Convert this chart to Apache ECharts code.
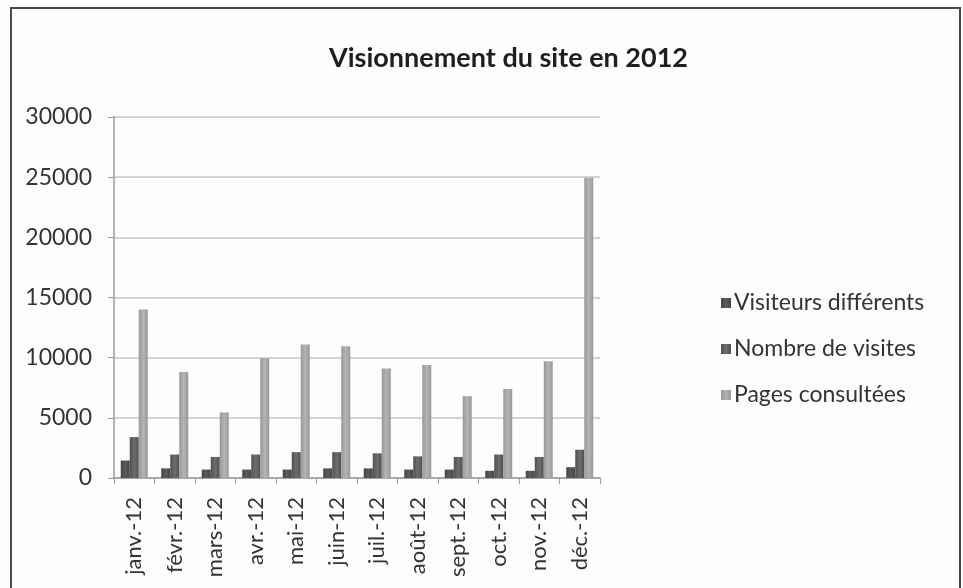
<!DOCTYPE html>
<html>
<head>
<meta charset="utf-8">
<script src="https://cdn.jsdelivr.net/npm/echarts@6/dist/echarts.min.js"></script>
<style>
  html, body { margin: 0; padding: 0; background: #fdfdfd; }
  #myChart { width: 963px; height: 588px; }
</style>
</head>
<body>
<div id="myChart"></div>
<script>
// categories (mois)
let months = ["janv.-12", "févr.-12", "mars-12", "avr.-12", "mai-12", "juin-12",
  "juil.-12", "août-12", "sept.-12", "oct.-12", "nov.-12", "déc.-12"];
// series values
let visiteurs = [1450, 800, 700, 700, 700, 800, 800, 700, 700, 600, 600, 900];
let visites = [3400, 1950, 1750, 1950, 2150, 2150, 2050, 1800, 1750, 1950, 1750, 2350];
let pages = [14000, 8800, 5450, 9950, 11100, 10950, 9100, 9400, 6800, 7400, 9700, 24950];
let seriesNames = ["Visiteurs différents", "Nombre de visites", "Pages consultées"];

let font = "Lato, 'Open Sans', sans-serif";

// dégradé horizontal pour l'effet Excel
function shade (c1, c2) {
  return new echarts.graphic.LinearGradient(0, 0, 1, 0, [
    { offset: 0, color: c1 },
    { offset: 0.5, color: c2 },
    { offset: 1, color: c1 }
  ]);
}

let myChart = echarts.init(document.getElementById("myChart"));
let option = {
  backgroundColor: "#fdfdfd",
  animation: false,
  title: {
    text: "Visionnement du site en 2012",
    left: 324,
    top: 40,
    textStyle: {
      fontFamily: font,
      fontSize: 27,
      fontWeight: "bold",
      color: "#1e1e1e"
    }
  },
  // cadre du graphique
  graphic: [{
    type: "rect",
    shape: { x: 11, y: 8, width: 949, height: 600 },
    style: { fill: "none", stroke: "#4a4a4a", lineWidth: 2 }
  }],
  legend: {
    orient: "vertical",
    left: 716,
    top: 286,
    itemWidth: 10,
    itemHeight: 10,
    itemGap: 22,
    icon: "rect",
    textStyle: {
      fontFamily: font,
      fontSize: 23,
      color: "#333333",
      lineHeight: 24,
      padding: [0, 0, 0, -2]
    },
    data: seriesNames
  },
  grid: {
    left: 114,
    right: 363,
    top: 117,
    bottom: 110
  },
  xAxis: {
    type: "category",
    data: months,
    axisLine: { lineStyle: { color: "#9a9a9a", width: 1.5 } },
    axisTick: { show: true, length: 6, lineStyle: { color: "#9a9a9a" } },
    axisLabel: {
      rotate: 90,
      margin: 19,
      fontFamily: font,
      fontSize: 22,
      color: "#333333"
    }
  },
  yAxis: {
    type: "value",
    min: 0,
    max: 30000,
    interval: 5000,
    axisLine: { show: true, lineStyle: { color: "#9a9a9a", width: 1.5 } },
    axisTick: { show: true, length: 6, lineStyle: { color: "#9a9a9a" } },
    axisLabel: {
      margin: 22,
      fontFamily: font,
      fontSize: 23,
      color: "#333333",
      formatter: function (v) { return String(v); }
    },
    splitLine: { lineStyle: { color: "#c4c4c4", width: 1.5 } }
  },
  series: [
    {
      name: seriesNames[0],
      type: "bar",
      data: visiteurs,
      barWidth: 9,
      barGap: "0%",
      color: "#4e4e4e",
      itemStyle: { color: shade("#444444", "#5c5c5c") }
    },
    {
      name: seriesNames[1],
      type: "bar",
      data: visites,
      barWidth: 9,
      barGap: "0%",
      color: "#5f5f5f",
      itemStyle: { color: shade("#505050", "#6e6e6e") }
    },
    {
      name: seriesNames[2],
      type: "bar",
      data: pages,
      barWidth: 9,
      barGap: "0%",
      color: "#a2a2a2",
      itemStyle: { color: shade("#989898", "#b4b4b4") }
    }
  ]
};
myChart.setOption(option);
</script>
</body>
</html>
